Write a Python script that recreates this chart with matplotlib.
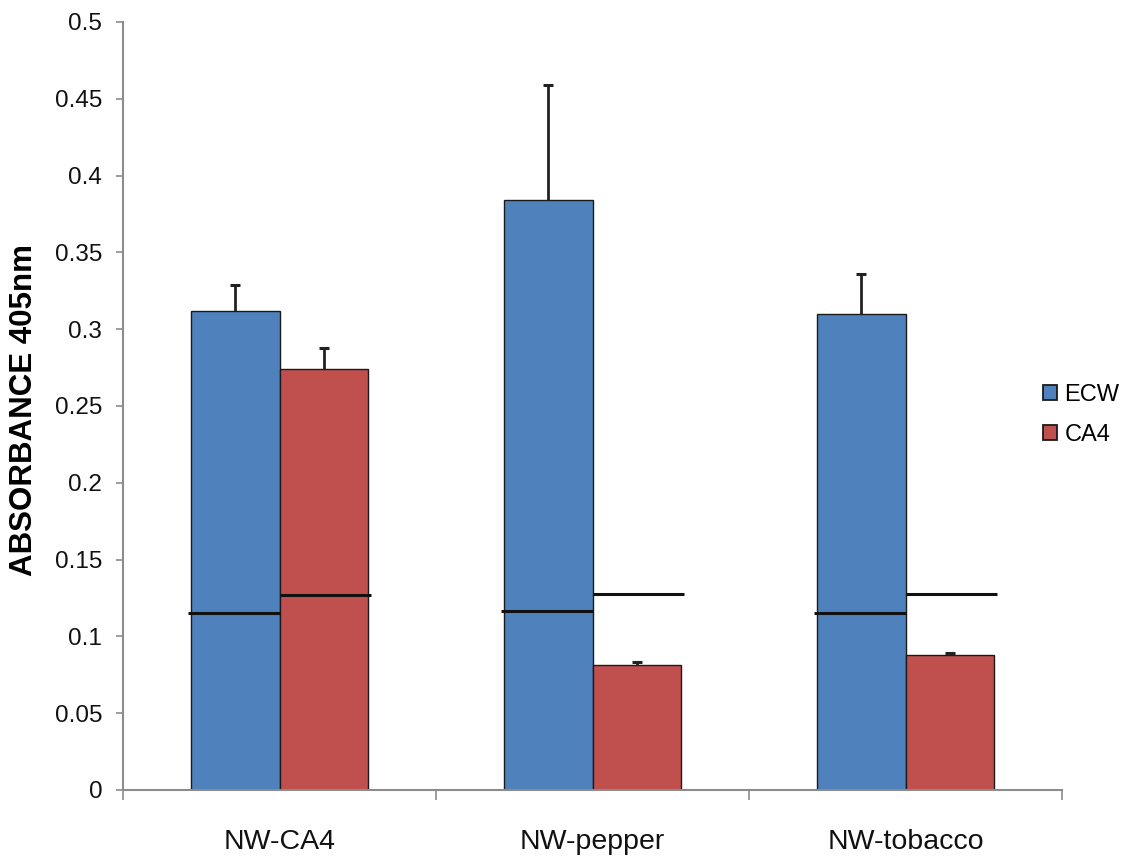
import matplotlib
matplotlib.use("Agg")
import matplotlib.pyplot as plt
import numpy as np
from matplotlib.patches import Patch

plt.rcParams['font.family'] = ['Liberation Sans', 'DejaVu Sans']

categories = ["NW-CA4", "NW-pepper", "NW-tobacco"]
series_names = ["ECW", "CA4"]
ecw = [0.312, 0.384, 0.310]
ecw_err = [0.017, 0.075, 0.026]
ca4 = [0.274, 0.0815, 0.0877]
ca4_err = [0.014, 0.002, 0.0016]
ecw_cut = [0.1152, 0.1165, 0.1152]
ca4_cut = [0.1270, 0.1276, 0.1274]
yticks = [0, 0.05, 0.1, 0.15, 0.2, 0.25, 0.3, 0.35, 0.4, 0.45, 0.5]
ytick_labels = ["0", "0.05", "0.1", "0.15", "0.2", "0.25", "0.3", "0.35", "0.4", "0.45", "0.5"]

blue = "#4F81BD"
red = "#C0504D"
spine_col = "#8C8C8C"

fig = plt.figure(figsize=(11.28, 8.59), dpi=100)
ax = fig.add_axes([123/1128, 1-790/859, 939/1128, 768/859])

x = np.arange(len(categories))
w = 0.283

ax.bar(x - w/2, ecw, w, color=blue, edgecolor="#1a1a1a", linewidth=1.0, zorder=2)
ax.bar(x + w/2, ca4, w, color=red, edgecolor="#1a1a1a", linewidth=1.0, zorder=2)

for xs, vals, errs in [(x - w/2, ecw, ecw_err), (x + w/2, ca4, ca4_err)]:
    eb = ax.errorbar(xs, vals, yerr=[np.zeros(len(vals)), errs], fmt="none",
                     ecolor="#222222", elinewidth=2, capsize=3.8, capthick=2.2, zorder=3)
    eb[1][0].set_visible(False)

ext = 0.01
ax.hlines(ecw_cut, x - w - ext, x, colors="#111111", linewidth=2.2, zorder=4)
ax.hlines(ca4_cut, x, x + w + ext, colors="#111111", linewidth=2.2, zorder=4)

ax.set_xlim(-0.5, len(categories) - 0.5)
ax.set_ylim(0, 0.5)
ax.set_yticks(yticks)
ax.set_yticklabels(ytick_labels)
ax.set_xticks(x)
ax.set_xticklabels(categories)
ax.set_xticks(np.arange(-0.5, len(categories), 1.0), minor=True)

for s in ["top", "right"]:
    ax.spines[s].set_visible(False)
for s in ["left", "bottom"]:
    ax.spines[s].set_color(spine_col)
    ax.spines[s].set_linewidth(1.5)

ax.tick_params(axis="y", which="major", direction="out", length=5, width=1.2,
               color=spine_col, labelsize=17.5, pad=10, labelcolor="#111111")
ax.tick_params(axis="x", which="major", length=0, labelsize=20.5, pad=28, labelcolor="#111111")
ax.tick_params(axis="x", which="minor", direction="out", length=7, width=1.2, color=spine_col)

ax.set_ylabel("ABSORBANCE 405nm", fontsize=22.5, fontweight="bold", va="center")
ax.yaxis.set_label_coords(-0.105, 0.495)

handles = [Patch(facecolor=blue, edgecolor="#1a1a1a", linewidth=1.3, label=series_names[0]),
           Patch(facecolor=red, edgecolor="#1a1a1a", linewidth=1.3, label=series_names[1])]
fig.legend(handles=handles, loc="center left", bbox_to_anchor=(1043/1128, 1-415/859),
           frameon=False, fontsize=17, handlelength=0.6, handleheight=0.6,
           handletextpad=0.3, labelspacing=0.75, borderpad=0, borderaxespad=0)

fig.savefig("out.png", dpi=100, facecolor="white")
